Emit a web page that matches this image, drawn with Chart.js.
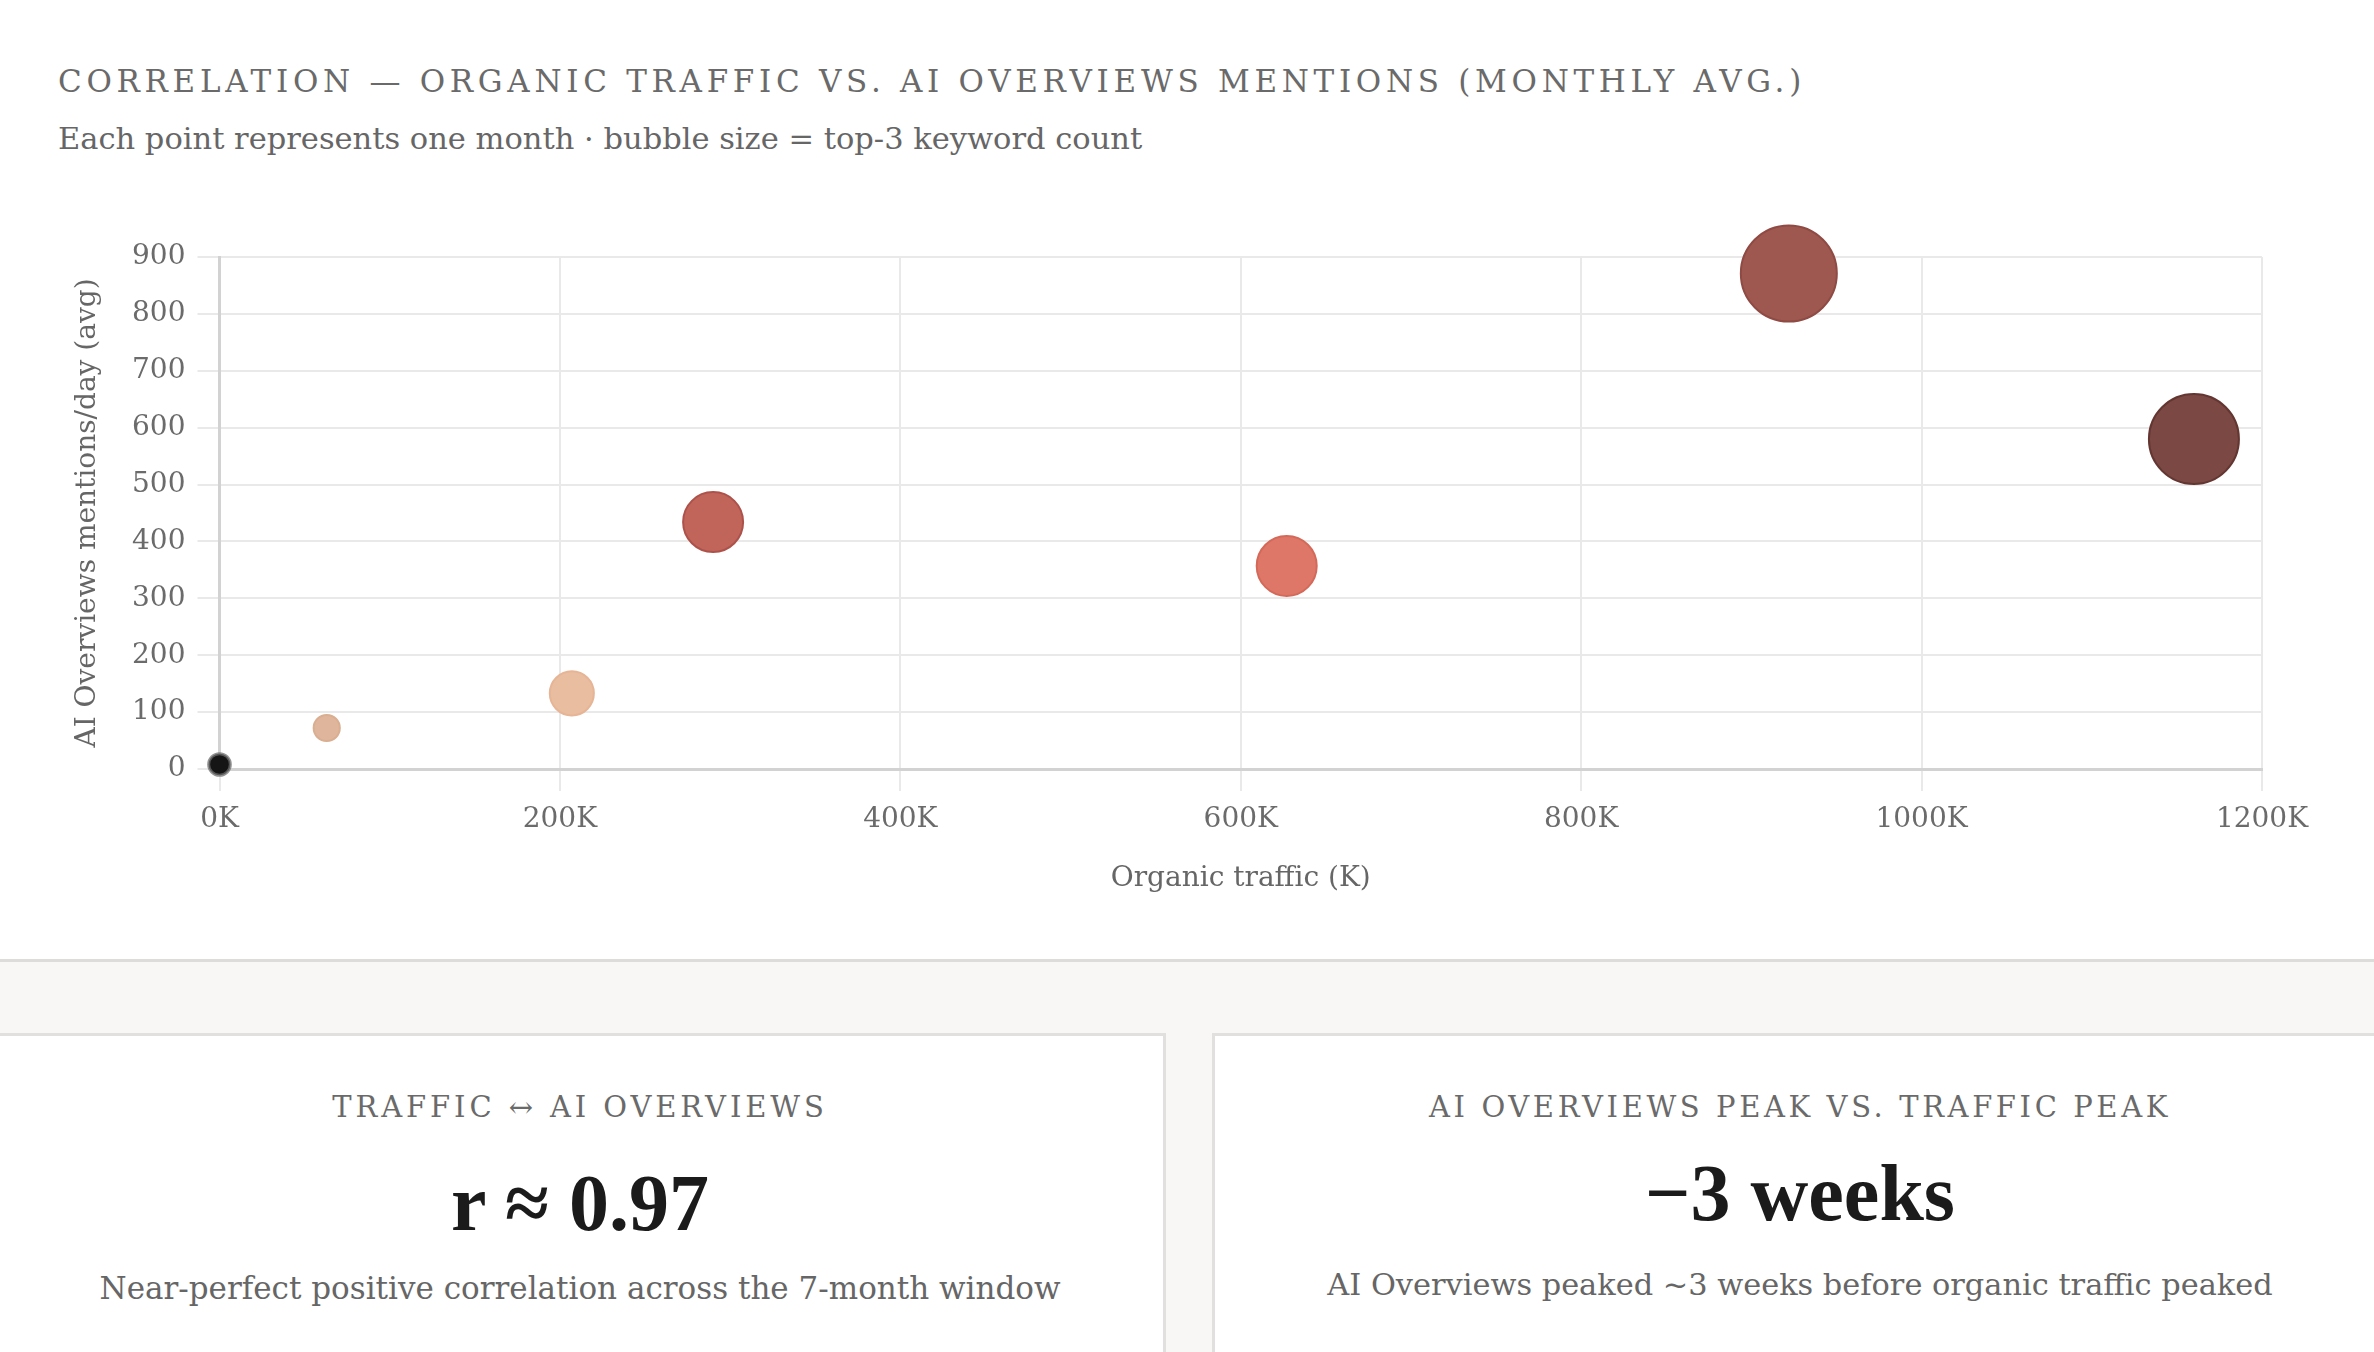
<!DOCTYPE html>
<html>
<head>
<meta charset="utf-8">
<script src="https://cdn.jsdelivr.net/npm/chart.js@4.4.1/dist/chart.umd.min.js"></script>
<style>
  html, body { margin: 0; padding: 0; }
  body {
    width: 2374px; height: 1352px; overflow: hidden; position: relative;
    background: #fff; font-family: "DejaVu Serif", serif; color: #666;
  }
  .title {
    position: absolute; left: 58px; top: 61px; margin: 0;
    font-size: 31px; font-weight: normal; letter-spacing: 4.7px; color: #6a6a6a;
    white-space: nowrap; line-height: 40px;
  }
  .subtitle {
    position: absolute; left: 58px; top: 119px; margin: 0;
    font-size: 30.5px; color: #666; white-space: nowrap; line-height: 40px;
  }
  #wrap { position: absolute; left: 0; top: 0; width: 2374px; height: 920px; }
  .band {
    position: absolute; left: 0; top: 959px; width: 2374px; height: 393px;
    background: #f8f7f5; border-top: 3px solid #dedcda;
  }
  .card {
    position: absolute; top: 1033px; height: 340px; background: #fff;
    border: 3px solid #e2e0de; text-align: center;
  }
  .card.left { left: -6px; width: 1166px; }
  .card.right { left: 1212px; width: 1170px; }
  .card .label {
    position: absolute; left: 0; right: 0; top: 53px;
    font-size: 29px; letter-spacing: 3.9px; color: #6a6a6a; line-height: 36px;
  }
  .card.right .label { letter-spacing: 3.6px; }
  .card .value {
    position: absolute; left: 0; right: 0; top: 122px;
    font-family: "Liberation Serif", serif;
    font-size: 80px; font-weight: bold; color: #1b1b1b; line-height: 90px;
  }
  .card .desc {
    position: absolute; left: 0; right: 0; top: 232px;
    font-size: 31px; color: #666; line-height: 40px;
  }
  .card.right .desc { font-size: 30.4px; top: 229px; }
</style>
</head>
<body>
<h1 class="title">CORRELATION — ORGANIC TRAFFIC VS. AI OVERVIEWS MENTIONS (MONTHLY AVG.)</h1>
<p class="subtitle">Each point represents one month · bubble size = top-3 keyword count</p>

<div id="wrap"><canvas id="bubbleChart"></canvas></div>

<div class="band"></div>
<div class="card left">
  <div class="label">TRAFFIC ↔ AI OVERVIEWS</div>
  <div class="value">r ≈ 0.97</div>
  <div class="desc">Near-perfect positive correlation across the 7-month window</div>
</div>
<div class="card right">
  <div class="label">AI OVERVIEWS PEAK VS. TRAFFIC PEAK</div>
  <div class="value" style="top:112px">−3 weeks</div>
  <div class="desc">AI Overviews peaked ~3 weeks before organic traffic peaked</div>
</div>

<script>
// one entry per month
const months      = ['M1', 'M2', 'M3', 'M4', 'M5', 'M6', 'M7'];
const trafficK    = [0, 63, 207, 290, 627, 922, 1160];      // organic traffic (K)
const aioMentions = [8, 72, 133, 434, 357, 871, 580];       // AI Overviews mentions/day (avg)
const topKeywords = [13, 19, 54, 100, 100, 256, 225];       // top-3 keyword count

const xTicks = [0, 200, 400, 600, 800, 1000, 1200];
const yTicks = [0, 100, 200, 300, 400, 500, 600, 700, 800, 900];

const fills   = ['#151515', '#dfb69b', '#e9bd9f', '#c1645a', '#de7767', '#9f5850', '#7b4843'];
const borders = ['rgba(110,110,110,0.75)', '#d9ae91', '#e6b596', '#ad524a', '#d4695a', '#8e4a43', '#643632'];

const bubbleRadius = k => 3 * Math.sqrt(k);

const FONT = '"DejaVu Serif", serif';

new Chart(document.getElementById('bubbleChart'), {
  type: 'bubble',
  data: {
    datasets: [{
      label: 'Months',
      data: months.map((m, i) => ({ x: trafficK[i], y: aioMentions[i], r: bubbleRadius(topKeywords[i]) })),
      backgroundColor: fills,
      borderColor: borders,
      borderWidth: months.map((m, i) => i === 0 ? 3 : 2),
      clip: false
    }]
  },
  options: {
    responsive: true,
    maintainAspectRatio: false,
    animation: false,
    layout: { padding: { left: 0, top: 257, right: 112, bottom: 0 } },
    plugins: {
      legend: { display: false },
      tooltip: { enabled: false }
    },
    scales: {
      x: {
        type: 'linear',
        min: 0, max: 1200,
        afterBuildTicks: s => { s.ticks = xTicks.map(v => ({ value: v })); },
        afterFit: s => { s.height = 151; },
        ticks: {
          color: '#6b6b6b', padding: 12,
          font: { family: FONT, size: 28 },
          callback: v => v + 'K'
        },
        grid: { color: '#e9e9e9', lineWidth: 2, tickLength: 22 },
        border: { color: '#d2d2d2', width: 3 },
        title: {
          display: true, text: 'Organic traffic (K)', color: '#666',
          font: { family: FONT, size: 28 }, padding: { top: 0, bottom: 24 }
        }
      },
      y: {
        type: 'linear',
        min: 0, max: 900,
        afterBuildTicks: s => { s.ticks = yTicks.map(v => ({ value: v })); },
        afterFit: s => { s.width = 219.5; },
        ticks: {
          color: '#6b6b6b', padding: 12,
          font: { family: FONT, size: 28 }
        },
        grid: { color: '#e9e9e9', lineWidth: 2, tickLength: 22 },
        border: { color: '#d2d2d2', width: 3 },
        title: {
          display: true, text: 'AI Overviews mentions/day (avg)', color: '#666',
          font: { family: FONT, size: 28 }, padding: { top: 71, bottom: 0 }
        }
      }
    }
  }
});
</script>
</body>
</html>
